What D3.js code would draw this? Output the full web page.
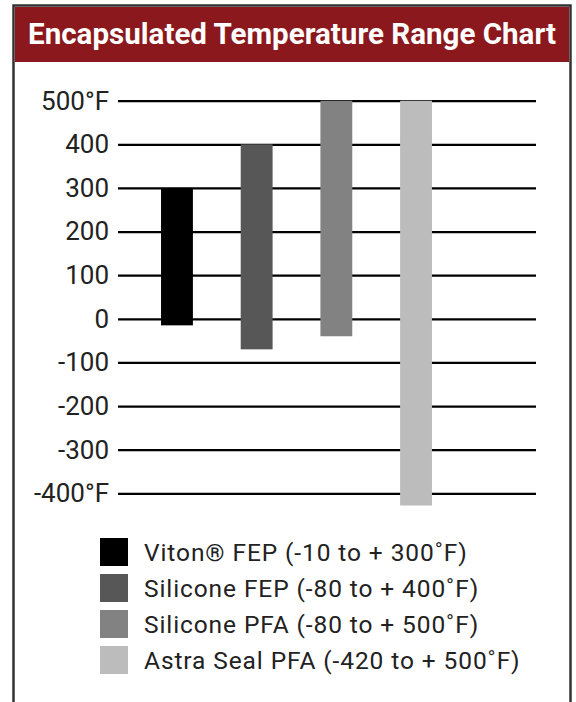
<!DOCTYPE html>
<html>
<head>
<meta charset="utf-8">
<script src="https://cdn.jsdelivr.net/npm/d3@7"></script>
<style>
  body { margin: 0; background: #fff; }
  svg { display: block; font-family: Roboto, "Noto Sans", sans-serif; }
</style>
</head>
<body>
<div id="chart"></div>
<script>
// Chart data
var categories = ["Viton® FEP", "Silicone FEP", "Silicone PFA", "Astra Seal PFA"];
var lowValues = [-15, -70, -40, -428];
var highValues = [300, 400, 500, 500];
var colors = ["#000000", "#575757", "#828282", "#bcbcbc"];
var legendLabels = [
  "Viton® FEP (-10 to + 300˚F)",
  "Silicone FEP (-80 to + 400˚F)",
  "Silicone PFA (-80 to + 500˚F)",
  "Astra Seal PFA (-420 to + 500˚F)"
];
var tickValues = [500, 400, 300, 200, 100, 0, -100, -200, -300, -400];
var tickLabels = ["500°F", "400", "300", "200", "100", "0", "-100", "-200", "-300", "-400°F"];

var W = 576, H = 702;

var svg = d3.select("#chart")
    .append("svg")
    .attr("width", W)
    .attr("height", H);

// Frame and title bar
svg.append("rect")
    .attr("x", 13.5).attr("y", 5.5)
    .attr("width", 557).attr("height", 710)
    .attr("fill", "#fff")
    .attr("stroke", "#333")
    .attr("stroke-width", 2.5);

svg.append("rect")
    .attr("x", 15).attr("y", 7)
    .attr("width", 554).attr("height", 55)
    .attr("fill", "#8b181c");

var title = svg.append("text")
    .attr("x", 292).attr("y", 44)
    .attr("text-anchor", "middle")
    .attr("fill", "#fff")
    .style("font-weight", "bold")
    .style("font-size", "26px")
    .text("Encapsulated Temperature Range Chart");
// fit title to its width in the reference
var tl = title.node().getComputedTextLength();
title.style("font-size", (26 * 528 / tl) + "px");

// Scales
var y = d3.scaleLinear().domain([-400, 500]).range([493.3, 100.7]);
var x = d3.scaleBand()
    .domain(categories)
    .range([118, 475])
    .paddingInner(0.6)
    .paddingOuter(0.54);

var gridLeft = 118, gridRight = 536;

// Y axis with gridlines
var yAxis = svg.append("g")
    .attr("transform", "translate(" + gridLeft + ",0)")
    .call(d3.axisLeft(y)
      .tickValues(tickValues)
      .tickSize(-(gridRight - gridLeft))
      .tickPadding(9)
      .tickFormat(function(d, i) { return tickLabels[i]; }));

yAxis.select(".domain").remove();
yAxis.selectAll(".tick line")
    .attr("stroke", "#000")
    .attr("stroke-width", 2.2);
yAxis.selectAll(".tick text")
    .attr("fill", "#222")
    .style("font-size", "26px")
    .style("font-family", "Roboto, sans-serif");

// Bars
svg.selectAll(".bar")
    .data(categories)
    .enter().append("rect")
    .attr("class", "bar")
    .attr("x", function(d) { return x(d); })
    .attr("width", x.bandwidth())
    .attr("y", function(d, i) { return y(highValues[i]); })
    .attr("height", function(d, i) { return y(lowValues[i]) - y(highValues[i]); })
    .attr("fill", function(d, i) { return colors[i]; });

// Legend
var legend = svg.append("g")
    .attr("transform", "translate(100,538)");

var rows = legend.selectAll("g")
    .data(legendLabels)
    .enter().append("g")
    .attr("transform", function(d, i) { return "translate(0," + (i * 36) + ")"; });

rows.append("rect")
    .attr("width", 28)
    .attr("height", 28)
    .attr("fill", function(d, i) { return colors[i]; });

rows.append("text")
    .attr("x", 44)
    .attr("y", 23)
    .attr("fill", "#222")
    .style("font-size", "24.5px")
    .style("letter-spacing", "0.9px")
    .text(function(d) { return d; });
</script>
</body>
</html>
